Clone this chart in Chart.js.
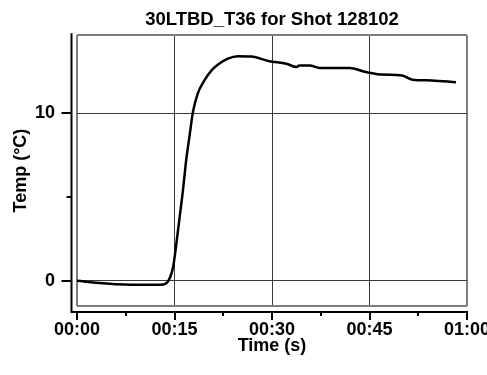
<!DOCTYPE html>
<html>
<head>
<meta charset="utf-8">
<script src="https://cdn.jsdelivr.net/npm/chart.js@4"></script>
<style>
  html, body { margin: 0; padding: 0; background: #fff; }
  #wrap { width: 487px; height: 375px; }
</style>
</head>
<body>
<div id="wrap"><canvas id="chart1"></canvas></div>
<script>
// data (time in s, temperature in degC)
var tiempos = [0, 4, 9.2, 12.7, 13.75, 14.3, 14.8, 15.3, 15.8, 16.3, 16.8, 17.3, 17.85, 18.6,
    19.6, 20.7, 21.7, 23.2, 24.75, 26.8, 29.6, 32.2, 33.8, 34.2, 35.8, 37.3, 40.4, 41.9,
    44.5, 46.9, 50.0, 51.6, 54.6, 58.3];
var temperaturas = [0, -0.14, -0.24, -0.24, -0.14, 0.18, 0.85, 2.26, 3.83, 5.4, 7.2, 8.6, 10.1, 11.2,
    11.95, 12.55, 12.9, 13.25, 13.4, 13.38, 13.1, 12.95, 12.75, 12.85, 12.85, 12.7, 12.7, 12.7,
    12.45, 12.3, 12.25, 12.0, 11.95, 11.85];

var xTicks = [0, 15, 30, 45, 60];
var xMinorTicks = [7.5, 22.5, 37.5, 52.5];
var yTicks = [0, 10];
var yMinorTicks = [5];
var yMin = -1.5, yMax = 14.65;

var grisBorde = '#7d7d7d';
var grisGrid = '#3a3a3a';
var fuente = "'Liberation Sans', Arial, sans-serif";

function mmss(v) {
    var m = Math.floor(v / 60), s = Math.round(v % 60);
    return (m < 10 ? '0' : '') + m + ':' + (s < 10 ? '0' : '') + s;
}

var puntos = tiempos.map(function (t, i) {
    return { x: t, y: temperaturas[i] };
});

// ejes separados del recuadro, como en la figura original
var ejesSueltos = {
    id: 'ejesSueltos',
    afterLayout: function (chart) {
        var a = chart.chartArea, t = chart.titleBlock;
        if (t) { t.left = a.left; t.right = a.right; t.width = a.right - a.left; }
    },
    afterDraw: function (chart) {
        var ctx = chart.ctx, a = chart.chartArea;
        var xs = chart.scales.x, ys = chart.scales.y;
        var ax = a.left - 5.5, ay = a.bottom + 6;
        ctx.save();
        ctx.strokeStyle = '#000';
        ctx.lineWidth = 2;
        ctx.beginPath();
        ctx.moveTo(ax, a.top - 2);
        ctx.lineTo(ax, ay);
        ctx.lineTo(xs.getPixelForValue(60) + 1, ay);
        xTicks.forEach(function (v) {
            var px = Math.round(xs.getPixelForValue(v));
            ctx.moveTo(px, ay); ctx.lineTo(px, ay + 8);
        });
        xMinorTicks.forEach(function (v) {
            var px = Math.round(xs.getPixelForValue(v));
            ctx.moveTo(px, ay); ctx.lineTo(px, ay + 4);
        });
        yTicks.forEach(function (v) {
            var py = Math.round(ys.getPixelForValue(v));
            ctx.moveTo(ax, py); ctx.lineTo(ax - 10, py);
        });
        yMinorTicks.forEach(function (v) {
            var py = Math.round(ys.getPixelForValue(v));
            ctx.moveTo(ax, py); ctx.lineTo(ax - 5, py);
        });
        ctx.stroke();
        ctx.restore();
    }
};

var canvas = document.getElementById('chart1').getContext('2d');

window.grafica = new Chart(canvas, {
    type: 'line',
    data: {
        datasets: [{
            label: '30LTBD_T36',
            data: puntos,
            borderColor: '#000',
            borderWidth: 2.5,
            pointRadius: 0,
            fill: false,
            cubicInterpolationMode: 'monotone'
        }]
    },
    plugins: [ejesSueltos],
    options: {
        responsive: true,
        maintainAspectRatio: false,
        animation: false,
        layout: {
            padding: { left: 0, right: 20, top: 0, bottom: 0 }
        },
        plugins: {
            legend: { display: false },
            tooltip: { enabled: false },
            title: {
                display: true,
                text: '30LTBD_T36 for Shot 128102',
                color: '#000',
                font: { family: fuente, size: 18.5, weight: 'bold' },
                padding: { top: 9, bottom: 4 }
            }
        },
        scales: {
            x: {
                type: 'linear',
                min: 0,
                max: 60,
                afterBuildTicks: function (s) {
                    s.ticks = xTicks.map(function (v) { return { value: v }; });
                },
                afterFit: function (s) {
                    s.height = 69;
                    s.paddingLeft = 0;
                    s.paddingRight = 0;
                },
                ticks: {
                    autoSkip: false,
                    maxRotation: 0,
                    padding: 13,
                    color: '#000',
                    font: { family: fuente, size: 18, weight: 'bold' },
                    callback: function (v) { return mmss(v); }
                },
                grid: {
                    drawTicks: false,
                    tickLength: 0,
                    color: function (c) {
                        return (c.tick && (c.tick.value === 0 || c.tick.value === 60)) ? grisBorde : grisGrid;
                    },
                    lineWidth: function (c) {
                        return (c.tick && (c.tick.value === 0 || c.tick.value === 60)) ? 2 : 1;
                    }
                },
                border: { display: false },
                title: {
                    display: true,
                    text: 'Time (s)',
                    color: '#000',
                    font: { family: fuente, size: 18, weight: 'bold' },
                    padding: { top: 0, bottom: 18 }
                }
            },
            y: {
                type: 'linear',
                min: yMin,
                max: yMax,
                afterBuildTicks: function (s) {
                    var v = [yMin].concat(yTicks).concat([yMax]);
                    s.ticks = v.map(function (x) { return { value: x }; });
                },
                afterFit: function (s) {
                    s.width = 77;
                },
                ticks: {
                    padding: 22,
                    color: '#000',
                    font: { family: fuente, size: 18, weight: 'bold' },
                    callback: function (v) { return yTicks.indexOf(v) >= 0 ? String(v) : ''; }
                },
                grid: {
                    drawTicks: false,
                    tickLength: 0,
                    color: function (c) {
                        return (c.tick && (c.tick.value === yMin || c.tick.value === yMax)) ? grisBorde : grisGrid;
                    },
                    lineWidth: function (c) {
                        return (c.tick && (c.tick.value === yMin || c.tick.value === yMax)) ? 2 : 1;
                    }
                },
                border: { display: false },
                title: {
                    display: true,
                    text: 'Temp (°C)',
                    color: '#000',
                    font: { family: fuente, size: 18, weight: 'bold' },
                    padding: { top: 10, bottom: 0 }
                }
            }
        }
    }
});
</script>
</body>
</html>
